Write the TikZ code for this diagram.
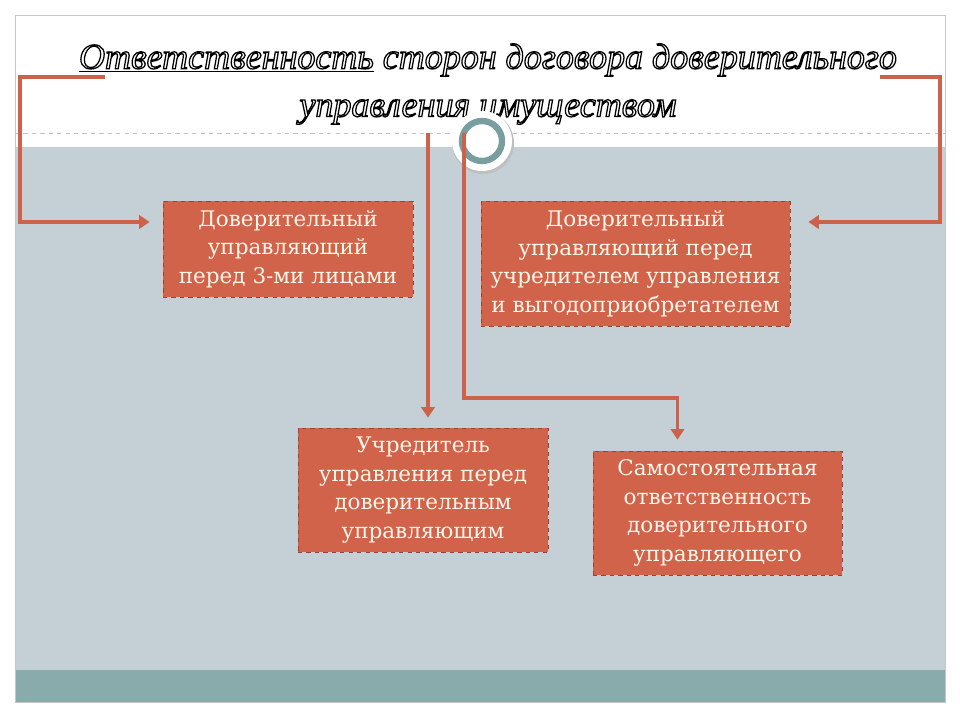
\documentclass[tikz,border=0pt]{standalone}
\usepackage{fontspec}
\setmainfont{Liberation Serif}
\newfontfamily\boxfont{DejaVu Serif}
\usetikzlibrary{arrows.meta, positioning, calc}
\definecolor{slidegray}{RGB}{197, 208, 214}
\definecolor{bandteal}{RGB}{138, 171, 171}
\definecolor{ringteal}{RGB}{120, 158, 160}
\definecolor{boxcoral}{RGB}{209, 99, 74}
\definecolor{boxedge}{RGB}{150, 68, 52}
\definecolor{linkcoral}{RGB}{204, 98, 76}
\definecolor{boxtext}{RGB}{255, 246, 234}
\def\px{0.025cm}
% hollow (stroked) letters for the title
\newcommand\hollow[1]{\special{pdf:literal direct 1 Tr 0.9 w}#1\special{pdf:literal direct 0 Tr}}

\begin{document}
\begin{tikzpicture}[x=0.025cm, y=-0.025cm,
    respbox/.style={draw=boxedge, dashed, line width=0.5pt, fill=boxcoral,
      text=boxtext, align=center, inner sep=2pt,
      font=\boxfont\fontsize{15.3}{20.3}\selectfont},
    titletext/.style={font=\fontsize{25.6}{30}\selectfont\itshape},
    link/.style={draw=linkcoral, line width=2.2pt,
      -{Triangle[width=9.5pt, length=7.5pt]}}]
  % slide background
  \useasboundingbox (0,0) rectangle (960,720);
  \fill[white] (0,0) rectangle (960,720);
  \fill[slidegray] (15,147) rectangle (945,670);
  \fill[bandteal] (15,670) rectangle (945,702);
  \draw[gray!50, dashed, line width=0.6pt] (15,133) -- (945,133);
  \draw[gray!45, line width=0.6pt] (15,15) rectangle (945,702);

  % title
  \node[titletext] (title1) at (488,60)
    {\hollow{\underline{Ответственность} сторон договора доверительного}};
  \node[titletext] (title2) at (488,112)
    {\hollow{управления имуществом}};

  % ring
  \fill[black!25] (483,143) circle (31*\px);
  \fill[white] (482,141) circle (30*\px);
  \draw[ringteal, line width=4.5pt] (482,141) circle (20*\px);

  % boxes
  \node[respbox, minimum width=250*\px, minimum height=96*\px] (third) at (288,249)
    {Доверительный\\управляющий\\перед 3-ми лицами};
  \node[respbox, minimum width=309*\px, minimum height=125*\px] (founder) at (635.5,263.5)
    {Доверительный\\управляющий перед\\учредителем управления\\и выгодоприобретателем};
  \node[respbox, minimum width=250*\px, minimum height=124*\px] (trustee) at (423,490)
    {Учредитель\\управления перед\\доверительным\\управляющим};
  \node[respbox, minimum width=249*\px, minimum height=124*\px] (self) at (717.5,513)
    {Самостоятельная\\ответственность\\доверительного\\управляющего};

  % connectors
  \coordinate (lbr) at (105,77);
  \coordinate (rbr) at (880,77);
  \coordinate (t1) at (428,133);
  \coordinate (t2) at (464,133);
  \draw[link] (lbr) -- (20,77) -- (20,222) -- ($(third.west)+(-13,-27)$);
  \draw[link] (rbr) -- (940,77) -- (940,222) -- ($(founder.east)+(18,-41.5)$);
  \draw[link] (t1) -- ($(t1 |- trustee.north)+(0,-10)$);
  \draw[link] (t2) -- (464,398) -| ($(self.north)+(-40,-11)$);
\end{tikzpicture}
\end{document}
